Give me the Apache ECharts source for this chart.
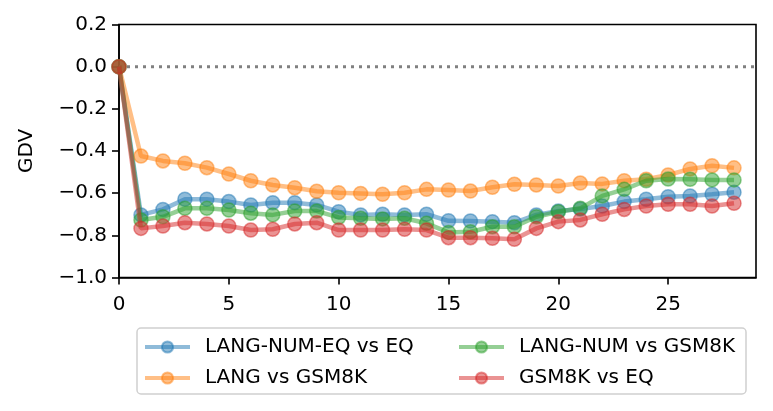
<!DOCTYPE html>
<html>
<head>
<meta charset="utf-8">
<script src="https://cdn.jsdelivr.net/npm/echarts@6/dist/echarts.min.js"></script>
<style>html,body{margin:0;padding:0;background:#fff}#c{width:773px;height:411px}</style>
</head>
<body>
<div id="c"></div>
<script>
var steps = [0,1,2,3,4,5,6,7,8,9,10,11,12,13,14,15,16,17,18,19,20,21,22,23,24,25,26,27,28];
var seriesNames = ['LANG-NUM-EQ vs EQ','LANG vs GSM8K','LANG-NUM vs GSM8K','GSM8K vs EQ'];
var langNumEqVsEq = [0,-0.703,-0.677,-0.629,-0.629,-0.640,-0.656,-0.645,-0.645,-0.656,-0.688,-0.703,-0.700,-0.703,-0.700,-0.731,-0.732,-0.735,-0.740,-0.703,-0.685,-0.675,-0.661,-0.640,-0.629,-0.617,-0.613,-0.605,-0.596];
var langVsGsm8k = [0,-0.424,-0.447,-0.458,-0.479,-0.509,-0.541,-0.561,-0.574,-0.591,-0.598,-0.601,-0.605,-0.598,-0.582,-0.585,-0.590,-0.572,-0.558,-0.561,-0.566,-0.552,-0.556,-0.541,-0.534,-0.514,-0.485,-0.470,-0.480];
var langNumVsGsm8k = [0,-0.727,-0.712,-0.672,-0.672,-0.680,-0.695,-0.703,-0.685,-0.685,-0.715,-0.719,-0.722,-0.719,-0.743,-0.786,-0.783,-0.759,-0.759,-0.712,-0.688,-0.672,-0.613,-0.582,-0.541,-0.533,-0.534,-0.537,-0.537];
var gsm8kVsEq = [0,-0.767,-0.756,-0.740,-0.746,-0.756,-0.775,-0.771,-0.746,-0.740,-0.775,-0.775,-0.775,-0.771,-0.775,-0.811,-0.811,-0.814,-0.819,-0.767,-0.735,-0.727,-0.700,-0.677,-0.661,-0.653,-0.653,-0.661,-0.648];
var xTicks = [0,5,10,15,20,25];
var colors = ['#1f77b4','#ff7f0e','#2ca02c','#d62728'];
var allValues = [langNumEqVsEq, langVsGsm8k, langNumVsGsm8k, gsm8kVsEq];

var FONT = 'DejaVu Sans';
function pairs(vals){ return steps.map(function(s,i){ return [s, vals[i]]; }); }

var series = [{
  type:'line', name:'zero', data:[[0,0],[29,0]], showSymbol:false, symbol:'none', silent:true,
  lineStyle:{color:'#808080', width:3, type:[3,5]}, z:1
}];
allValues.forEach(function(v,i){
  series.push({
    type:'line', name:seriesNames[i], data:pairs(v),
    symbol:'circle', symbolSize:14, showSymbol:true,
    lineStyle:{color:colors[i], width:4.5, opacity:0.5},
    itemStyle:{color:colors[i], opacity:0.5, borderColor:colors[i], borderWidth:1.5},
    z:2+i
  });
});

var legendCommon = {
  orient:'vertical', top:337, padding:0,
  itemGap:11, itemWidth:45, itemHeight:14, z:10,
  lineStyle:{width:4},
  textStyle:{color:'#000', fontFamily:FONT, fontSize:20, padding:[0,0,0,10]}
};

var chart = echarts.init(document.getElementById('c'), null, {renderer:'canvas'});
chart.setOption({
  animation:false,
  backgroundColor:'#fff',
  grid:{left:119, top:24.5, right:17, bottom:133.5, show:true, borderColor:'#000', borderWidth:1.6, backgroundColor:'transparent'},
  xAxis:{
    type:'value', min:0, max:29, interval:5,
    axisLine:{show:true, onZero:false, lineStyle:{color:'#000', width:1.6}},
    axisTick:{show:true, inside:false, length:7, lineStyle:{color:'#000', width:1.6}, customValues:xTicks},
    axisLabel:{color:'#000', fontFamily:FONT, fontSize:20, margin:17, customValues:xTicks},
    splitLine:{show:false}
  },
  yAxis:{
    type:'value', min:-1, max:0.2, interval:0.2,
    name:'GDV', nameLocation:'middle', nameGap:82, nameRotate:90,
    nameTextStyle:{color:'#000', fontFamily:FONT, fontSize:20},
    axisLine:{show:true, onZero:false, lineStyle:{color:'#000', width:1.6}},
    axisTick:{show:true, inside:false, length:7, lineStyle:{color:'#000', width:1.6}},
    axisLabel:{color:'#000', fontFamily:FONT, fontSize:20, margin:12,
      formatter:function(v){ var s=(Math.round(v*10)/10).toFixed(1); return s.replace('-','\u2212'); }},
    splitLine:{show:false}
  },
  graphic:[{type:'rect', z:0, shape:{x:137, y:328, width:609, height:66, r:4}, style:{fill:'#fff', stroke:'#d0d0d0', lineWidth:1.5}}],
  legend:[
    Object.assign({data:[seriesNames[0], seriesNames[1]], left:143}, legendCommon),
    Object.assign({data:[seriesNames[2], seriesNames[3]], left:457}, legendCommon)
  ],
  series:series
});
</script>
</body>
</html>
